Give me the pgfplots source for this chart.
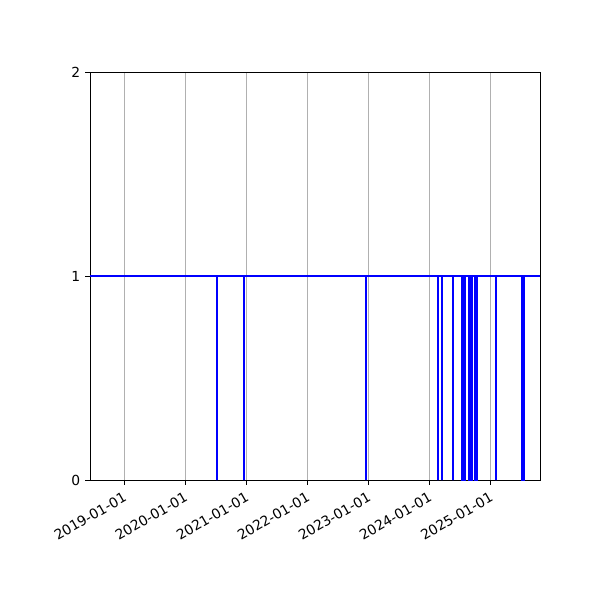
\documentclass[border=0pt]{standalone}
\usepackage{fontspec}
\setmainfont{DejaVu Sans}
\usepackage{pgfplots}
\pgfplotsset{compat=1.18}
\usepgfplotslibrary{dateplot}
\usepackage{pgfplotstable}

% status series: 1 = up, 0 = down (state flips are vertical: two rows per date)
\pgfplotstableread{
date val
2018-06-10 1
2020-07-08 1
2020-07-08 0
2020-07-08 1
2020-12-19 1
2020-12-19 0
2020-12-19 1
2022-12-19 1
2022-12-19 0
2022-12-19 1
2024-02-23 1
2024-02-23 0
2024-02-23 1
2024-03-17 1
2024-03-17 0
2024-03-17 1
2024-05-19 1
2024-05-19 0
2024-05-19 1
2024-07-13 1
2024-07-13 0
2024-07-15 0
2024-07-15 1
2024-07-17 1
2024-07-17 0
2024-07-19 0
2024-07-19 1
2024-07-21 1
2024-07-21 0
2024-07-23 0
2024-07-23 1
2024-07-25 1
2024-07-25 0
2024-07-27 0
2024-07-27 1
2024-07-29 1
2024-07-29 0
2024-07-31 0
2024-07-31 1
2024-08-24 1
2024-08-24 0
2024-08-26 0
2024-08-26 1
2024-08-28 1
2024-08-28 0
2024-08-30 0
2024-08-30 1
2024-09-01 1
2024-09-01 0
2024-09-03 0
2024-09-03 1
2024-09-05 1
2024-09-05 0
2024-09-07 0
2024-09-07 1
2024-09-09 1
2024-09-09 0
2024-09-10 0
2024-09-10 1
2024-09-29 1
2024-09-29 0
2024-10-01 0
2024-10-01 1
2024-10-03 1
2024-10-03 0
2024-10-05 0
2024-10-05 1
2024-10-07 1
2024-10-07 0
2024-10-09 0
2024-10-09 1
2024-10-11 1
2024-10-11 0
2024-10-13 0
2024-10-13 1
2025-02-03 1
2025-02-03 0
2025-02-03 1
2025-07-07 1
2025-07-07 0
2025-07-09 0
2025-07-09 1
2025-07-11 1
2025-07-11 0
2025-07-13 0
2025-07-13 1
2025-07-15 1
2025-07-15 0
2025-07-17 0
2025-07-17 1
2025-10-23 1
}\statusdata

\begin{document}
\fontsize{10.4}{12}\selectfont
\begin{tikzpicture}
\path (-67.5pt,-90pt) rectangle (382.5pt,360pt);
\begin{axis}[
    at={(0,0)}, anchor=south west,
    scale only axis,
    width=337.5pt, height=306pt,
    date coordinates in=x,
    xmin=2018-06-10, xmax=2025-10-23,
    ymin=0, ymax=2,
    ytick={0,1,2},
    xtick={2019-01-01,2020-01-01,2021-01-01,2022-01-01,2023-01-01,2024-01-01,2025-01-01},
    xticklabel={\year-\month-\day},
    xticklabel style={rotate=30, anchor=north east, font=\fontsize{10.4}{12}\selectfont},
    yticklabel style={font=\fontsize{10.4}{12}\selectfont},
    /pgf/number format/assume math mode=true,
    xmajorgrids,
    major grid style={draw=black!31, line width=0.75pt},
    axis line style={line width=0.6pt},
    tick style={line width=0.6pt, black},
    tick align=outside,
    major tick length=3.65pt,
    xtick pos=bottom, ytick pos=left,
    clip=true,
]
\addplot[blue, line width=1.6pt, line join=miter] table[x=date, y=val] {\statusdata};
\end{axis}
\end{tikzpicture}
\end{document}
